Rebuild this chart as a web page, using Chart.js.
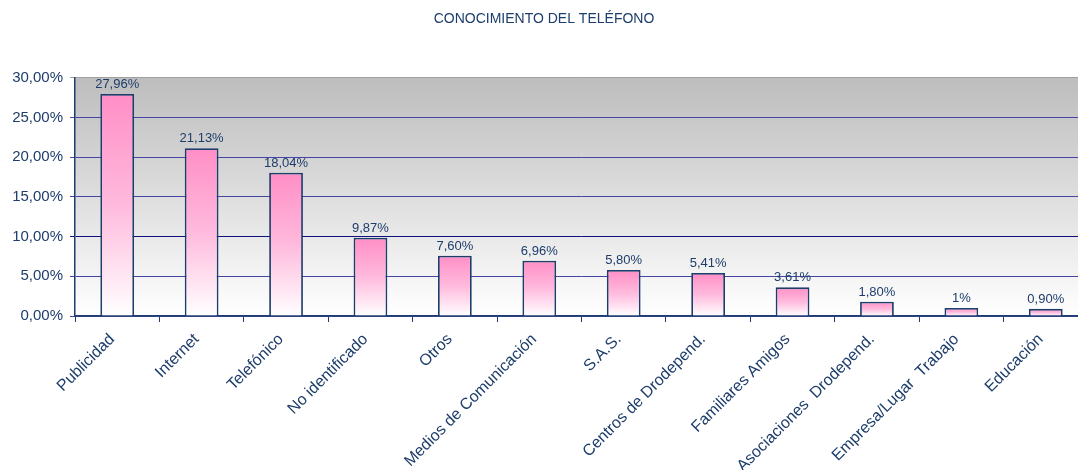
<!DOCTYPE html>
<html>
<head>
<meta charset="utf-8">
<script src="https://cdn.jsdelivr.net/npm/chart.js@4/dist/chart.umd.min.js"></script>
<style>
  html, body { margin: 0; padding: 0; background: #fff; overflow: hidden; }
  #wrap { width: 1090px; height: 470px; position: relative; }
</style>
</head>
<body>
<div id="wrap"><canvas id="chart"></canvas></div>
<script>
// data
const categories = ["Publicidad", "Internet", "Telefónico", "No identificado", "Otros",
  "Medios de Comunicación", "S.A.S.", "Centros de Drodepend.", "Familiares Amigos",
  "Asociaciones  Drodepend.", "Empresa/Lugar  Trabajo", "Educación"]
const percent = [27.96, 21.13, 18.04, 9.87, 7.60, 6.96, 5.80, 5.41, 3.61, 1.80, 1, 0.90]
const valueLabels = ["27,96%", "21,13%", "18,04%", "9,87%", "7,60%", "6,96%", "5,80%",
  "5,41%", "3,61%", "1,80%", "1%", "0,90%"]
const yTicks = [0, 5, 10, 15, 20, 25, 30]

const navy = "#1d3d6b"
const font = "'Liberation Sans', Arial, sans-serif"

// grey-to-white plot background
const plotBg = {
    id: "plotBg",
    beforeDraw(chart) {
        const { ctx, chartArea: a } = chart
        const g = ctx.createLinearGradient(0, a.top, 0, a.bottom)
        g.addColorStop(0, "#bdbdbd")
        g.addColorStop(1, "#ffffff")
        ctx.save()
        ctx.fillStyle = g
        ctx.fillRect(a.left, a.top, a.right - a.left, a.bottom - a.top)
        ctx.restore()
    }
}

// value labels above the bars
const barLabels = {
    id: "barLabels",
    afterDatasetsDraw(chart) {
        const ctx = chart.ctx
        const meta = chart.getDatasetMeta(0)
        ctx.save()
        ctx.font = "13px " + font
        ctx.fillStyle = navy
        ctx.textAlign = "center"
        ctx.textBaseline = "bottom"
        meta.data.forEach((bar, i) => {
            ctx.fillText(valueLabels[i], bar.x, bar.y - 3)
        })
        ctx.restore()
    }
}

function barFill(c) {
    const chart = c.chart
    const y = chart.scales.y
    if (!y || c.dataIndex === undefined) return "#ffb0d8"
    const top = y.getPixelForValue(percent[c.dataIndex])
    const bottom = y.getPixelForValue(0)
    if (!isFinite(top) || !isFinite(bottom) || bottom - top < 1) return "#ff90c8"
    const g = chart.ctx.createLinearGradient(0, top, 0, bottom)
    g.addColorStop(0, "#ff8ec6")
    g.addColorStop(0.5, "#ffbadd")
    g.addColorStop(1, "#ffffff")
    return g
}

new Chart(document.getElementById("chart").getContext("2d"), {
    type: "bar",
    data: {
        labels: categories,
        datasets: [{
            data: percent,
            backgroundColor: barFill,
            borderColor: navy,
            borderWidth: 1.8,
            barPercentage: 0.4,
            categoryPercentage: 1
        }]
    },
    options: {
        responsive: true,
        maintainAspectRatio: false,
        animation: false,
        layout: { padding: { left: 0, right: 2, top: 0, bottom: 0 } },
        plugins: {
            legend: { display: false },
            tooltip: { enabled: false },
            title: {
                display: true,
                text: "CONOCIMIENTO DEL TELÉFONO",
                color: navy,
                font: { family: font, size: 14, weight: "normal" },
                padding: { top: 11, bottom: 50 }
            }
        },
        scales: {
            x: {
                grid: { drawOnChartArea: false, drawTicks: true, tickLength: 6, color: navy },
                border: { color: navy, width: 1.5 },
                ticks: {
                    color: navy,
                    font: { family: font, size: 16 },
                    maxRotation: 45,
                    minRotation: 45,
                    autoSkip: false,
                    padding: 8,
                    labelOffset: -5
                },
                afterFit(s) { s.height = 154 }
            },
            y: {
                min: 0,
                max: 30,
                afterBuildTicks(s) { s.ticks = yTicks.map(v => ({ value: v })) },
                grid: {
                    color: c => {
                        if (!c.tick) return "#4545a5"
                        if (c.tick.value === 30) return "#a0a0a0"
                        if (c.tick.value === 10) return "#10107a"
                        return "#4545a5"
                    },
                    lineWidth: 1,
                    tickLength: 5
                },
                border: { color: navy, width: 1.5 },
                ticks: {
                    color: navy,
                    font: { family: font, size: 15 },
                    padding: 7,
                    callback: v => v.toFixed(2).replace(".", ",") + "%"
                },
                afterFit(s) { s.width = 75 }
            }
        }
    },
    plugins: [plotBg, barLabels]
})
</script>
</body>
</html>
